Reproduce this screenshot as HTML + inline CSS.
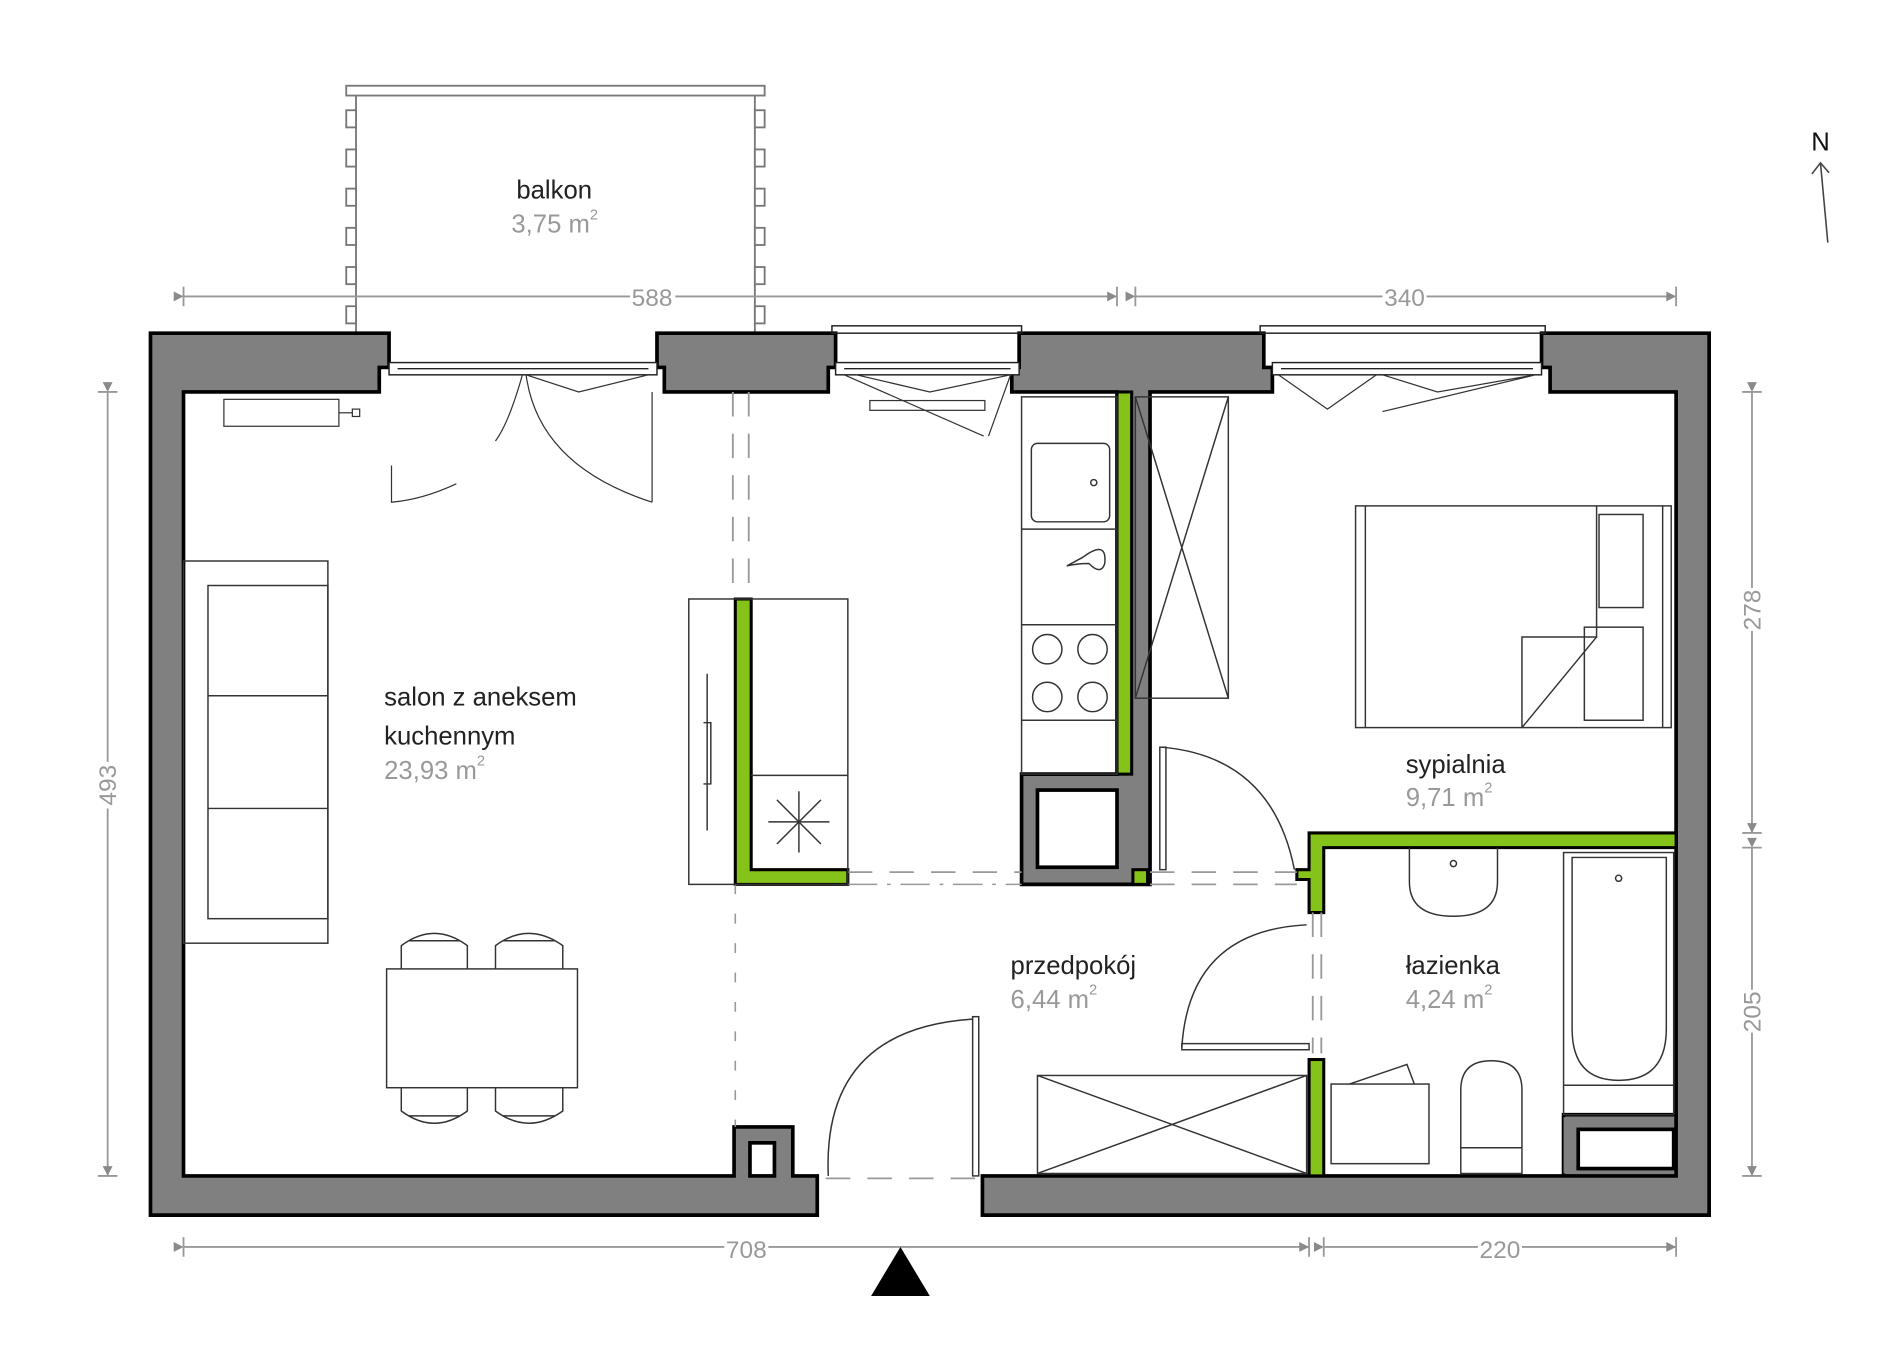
<!DOCTYPE html>
<html><head><meta charset="utf-8"><style>
html,body{margin:0;padding:0;background:#fff;}
svg{display:block;}
text{font-family:"Liberation Sans",sans-serif;}
</style></head><body>
<svg width="1900" height="1367" viewBox="0 0 1553 1116" preserveAspectRatio="none" xmlns="http://www.w3.org/2000/svg">
<defs>
<marker id="ar" viewBox="0 0 10 10" refX="10" refY="5" markerWidth="22" markerHeight="8" markerUnits="userSpaceOnUse" orient="auto"><path d="M0,0 L10,5 L0,10 z" fill="#8a8a8a"/></marker>
</defs>
<rect width="1553" height="1116" fill="#fff"/>

<g stroke="#777" stroke-width="1.5" fill="#fff">
<rect x="283" y="70" width="342" height="8"/>
<line x1="291" y1="78" x2="291" y2="272"/>
<line x1="617" y1="78" x2="617" y2="272"/>
<rect x="283" y="90" width="8" height="14"/><rect x="283" y="122" width="8" height="14"/><rect x="283" y="154" width="8" height="14"/><rect x="283" y="186" width="8" height="14"/><rect x="283" y="218" width="8" height="14"/><rect x="283" y="250" width="8" height="14"/>
<rect x="617" y="90" width="8" height="14"/><rect x="617" y="122" width="8" height="14"/><rect x="617" y="154" width="8" height="14"/><rect x="617" y="186" width="8" height="14"/><rect x="617" y="218" width="8" height="14"/><rect x="617" y="250" width="8" height="14"/>
</g>
<text x="453" y="162" font-size="21" text-anchor="middle" fill="#222">balkon</text>
<text x="418" y="190" font-size="21" fill="#999">3,75 m<tspan font-size="12" dy="-11">2</tspan></text>

<g stroke="#999" stroke-width="1.5" fill="none">
<line x1="150" y1="242" x2="515" y2="242" marker-start="url(#ar)"/><line x1="552" y1="242" x2="913" y2="242" marker-end="url(#ar)"/>
<line x1="928" y1="242" x2="1130" y2="242" marker-start="url(#ar)"/><line x1="1166" y1="242" x2="1370" y2="242" marker-end="url(#ar)"/>
<line x1="88" y1="320" x2="88" y2="622" marker-start="url(#ar)"/><line x1="88" y1="660" x2="88" y2="960" marker-end="url(#ar)"/>
<line x1="1432" y1="320" x2="1432" y2="480" marker-start="url(#ar)"/><line x1="1432" y1="515" x2="1432" y2="680" marker-end="url(#ar)"/>
<line x1="1432" y1="692" x2="1432" y2="808" marker-start="url(#ar)"/><line x1="1432" y1="843" x2="1432" y2="960" marker-end="url(#ar)"/>
<line x1="150" y1="1018" x2="592" y2="1018" marker-start="url(#ar)"/><line x1="628" y1="1018" x2="1070" y2="1018" marker-end="url(#ar)"/>
<line x1="1082" y1="1018" x2="1208" y2="1018" marker-start="url(#ar)"/><line x1="1244" y1="1018" x2="1370" y2="1018" marker-end="url(#ar)"/>
<line x1="913" y1="234" x2="913" y2="250"/><line x1="928" y1="234" x2="928" y2="250"/><line x1="1370" y1="234" x2="1370" y2="250"/><line x1="150" y1="234" x2="150" y2="250"/>
<line x1="80" y1="320" x2="96" y2="320"/><line x1="80" y1="960" x2="96" y2="960"/>
<line x1="1424" y1="320" x2="1440" y2="320"/><line x1="1424" y1="680" x2="1440" y2="680"/><line x1="1424" y1="692" x2="1440" y2="692"/><line x1="1424" y1="960" x2="1440" y2="960"/>
<line x1="150" y1="1010" x2="150" y2="1026"/><line x1="1070" y1="1010" x2="1070" y2="1026"/><line x1="1082" y1="1010" x2="1082" y2="1026"/><line x1="1370" y1="1010" x2="1370" y2="1026"/>
</g>
<g fill="#999" font-size="20" text-anchor="middle">
<text x="533" y="250">588</text><text x="1148" y="250">340</text>
<text x="610" y="1027">708</text><text x="1226" y="1027">220</text>
<text transform="translate(95,641) rotate(-90)">493</text>
<text transform="translate(1439,498) rotate(-90)">278</text>
<text transform="translate(1439,826) rotate(-90)">205</text>
</g>

<text x="1488" y="123" font-size="21" text-anchor="middle" fill="#111">N</text>
<line x1="1494" y1="198" x2="1488" y2="133" stroke="#444" stroke-width="1.3"/>
<path d="M1481,142 L1488,133 L1495,141" fill="none" stroke="#444" stroke-width="1.3"/>

<path d="M736,1018 L712,1058 L760,1058 z" fill="#000"/>

<g fill="#808080" stroke="#000" stroke-width="3">
<path d="M123,272 L318,272 L318,300 L310,300 L310,320 L150,320 L150,960 L600,960 L600,920 L648,920 L648,960 L668,960 L668,992 L123,992 z"/>
<path d="M537,272 L683,272 L683,300 L677,300 L677,320 L543,320 L543,300 L537,300 z"/>
<path d="M833,272 L1033,272 L1033,300 L1040,300 L1040,320 L940,320 L940,722 L835,722 L835,632 L913,632 L913,320 L827,320 L827,300 L833,300 z"/>
<path d="M1260,272 L1397,272 L1397,992 L803,992 L803,960 L1370,960 L1370,910 L1278,910 L1278,960 L1370,960 L1370,320 L1267,320 L1267,300 L1260,300 z"/>
</g>
<rect x="848" y="645" width="65" height="63" fill="#fff" stroke="#000" stroke-width="3"/>
<rect x="613" y="933" width="20" height="27" fill="#fff" stroke="#000" stroke-width="3"/>
<rect x="1290" y="922" width="78" height="32" fill="#fff" stroke="#000" stroke-width="3"/>
<rect x="1278" y="912" width="8" height="46" fill="#808080"/>

<g fill="#86c31a" stroke="#000" stroke-width="2.5">
<rect x="913" y="320" width="12" height="312"/>
<path d="M601,489 L614,489 L614,710 L693,710 L693,722 L601,722 z"/>
<path d="M1070,680 L1370,680 L1370,692 L1082,692 L1082,745 L1070,745 L1070,718 L1060,718 L1060,710 L1070,710 z"/>
<rect x="1070" y="865" width="12" height="95"/>
<rect x="926" y="710" width="12" height="12"/>
</g>

<g stroke="#222" stroke-width="1.2" fill="#fff">
<rect x="318" y="296" width="219" height="10"/><rect x="683" y="296" width="150" height="10"/><rect x="1040" y="296" width="220" height="10"/>
<line x1="325" y1="301" x2="530" y2="301"/><line x1="690" y1="301" x2="826" y2="301"/><line x1="1047" y1="301" x2="1253" y2="301"/>
<rect x="680" y="266" width="155" height="6" fill="none"/><rect x="1030" y="266" width="233" height="6" fill="none"/>
</g>
<g stroke="#333" stroke-width="1" fill="none">
<path d="M430,306 L473,320 L530,306"/><path d="M690,306 L804,356"/><path d="M700,306 L760,320 L826,306"/><path d="M826,306 L808,356"/>
<path d="M1045,306 L1085,334 L1125,306"/><path d="M1130,306 L1175,320 L1255,306 L1130,336"/>
<path d="M427,306 Q416,345 405,360"/><path d="M430,306 Q440,380 533,410"/>
<path d="M320,380 L320,410 Q345,408 373,395"/><line x1="533" y1="320" x2="533" y2="410"/>
<rect x="183" y="326" width="94" height="22"/><rect x="288" y="334" width="6" height="6"/><line x1="277" y1="337" x2="288" y2="337"/>
<rect x="711" y="327" width="94" height="8"/>
</g>
<g stroke="#999" stroke-width="1.5" fill="none" stroke-dasharray="20,14">
<line x1="599" y1="320" x2="599" y2="489"/><line x1="612" y1="320" x2="612" y2="489"/>
<line x1="693" y1="712" x2="835" y2="712"/><line x1="940" y1="712" x2="1060" y2="712"/><line x1="940" y1="722" x2="1060" y2="722"/>
<line x1="1073" y1="745" x2="1073" y2="860"/><line x1="1080" y1="745" x2="1080" y2="860"/>
<line x1="675" y1="962" x2="800" y2="962"/>
</g>
<line x1="601" y1="722" x2="601" y2="920" stroke="#999" stroke-width="1.3" stroke-dasharray="8,16"/>
<line x1="693" y1="722" x2="835" y2="722" stroke="#999" stroke-width="1.3" stroke-dasharray="24,8,3,8"/>

<g stroke="#333" stroke-width="1.2" fill="none">
<rect x="150" y="458" width="118" height="312"/><rect x="170" y="478" width="98" height="272"/>
<line x1="170" y1="568" x2="268" y2="568"/><line x1="170" y1="660" x2="268" y2="660"/>
<rect x="316" y="791" width="156" height="97"/>
<path d="M328,791 L328,772 Q355,752 382,772 L382,791"/><path d="M405,791 L405,772 Q432,752 460,772 L460,791"/>
<path d="M328,888 L328,907 Q355,927 382,907 L382,888"/><path d="M405,888 L405,907 Q432,927 460,907 L460,888"/>
<line x1="334" y1="768" x2="376" y2="768"/><line x1="411" y1="768" x2="454" y2="768"/><line x1="334" y1="911" x2="376" y2="911"/><line x1="411" y1="911" x2="454" y2="911"/>
<rect x="563" y="489" width="130" height="233"/><line x1="614" y1="633" x2="693" y2="633"/>
<path d="M578,550 L578,678 M575,590 L581,590 L581,640 L575,640"/>
<rect x="835" y="324" width="78" height="308"/>
<line x1="835" y1="432" x2="913" y2="432"/><line x1="835" y1="510" x2="913" y2="510"/><line x1="835" y1="588" x2="913" y2="588"/>
<rect x="843" y="362" width="64" height="64" rx="5"/><circle cx="894" cy="394" r="2.5"/>
<path d="M885,455 Q905,440 903,460 Q900,470 890,460 Q880,460 872,462 Z"/>
<circle cx="856" cy="530" r="12"/><circle cx="893" cy="530" r="12"/><circle cx="856" cy="569" r="12"/><circle cx="893" cy="569" r="12"/>
<rect x="928" y="324" width="76" height="246"/><path d="M928,324 L1004,570 M1004,324 L928,570"/>
<rect x="1108" y="413" width="258" height="181"/><line x1="1116" y1="413" x2="1116" y2="594"/><line x1="1359" y1="413" x2="1359" y2="594"/>
<rect x="1307" y="420" width="36" height="76"/><rect x="1295" y="512" width="48" height="76"/>
<path d="M1244,594 L1244,520 L1305,520 L1305,413 M1244,594 L1305,520"/>
<path d="M677,960 Q672,840 795,832"/><rect x="795" y="830" width="5" height="130"/>
<path d="M966,855 Q972,760 1068,755"/><rect x="966" y="852" width="104" height="5"/>
<path d="M950,610 Q1040,618 1058,710"/><rect x="948" y="610" width="5" height="100"/>
<rect x="848" y="878" width="220" height="80"/><path d="M848,878 L1068,958 M1068,878 L848,958"/>
<path d="M1152,692 L1152,720 Q1152,748 1188,748 Q1224,748 1224,720 L1224,692"/><circle cx="1188" cy="705" r="2.5"/>
<rect x="1278" y="696" width="90" height="214"/><path d="M1285,700 L1285,840 Q1285,882 1323,882 Q1362,882 1362,840 L1362,700 Z"/><circle cx="1323" cy="717" r="2.5"/>
<line x1="1278" y1="886" x2="1368" y2="886"/>
<rect x="1088" y="885" width="80" height="65"/><path d="M1103,885 L1150,869 L1156,885"/>
<path d="M1194,958 L1194,890 Q1194,866 1219,866 Q1244,866 1244,890 L1244,958 Z"/><line x1="1194" y1="937" x2="1244" y2="937"/>
</g>
<g stroke="#333" stroke-width="1.2">
<line x1="653" y1="646" x2="653" y2="696"/><line x1="628" y1="671" x2="678" y2="671"/>
<line x1="635" y1="653" x2="671" y2="689"/><line x1="671" y1="653" x2="635" y2="689"/>
</g>

<g font-size="21">
<text x="314" y="576" fill="#222">salon z aneksem</text>
<text x="314" y="608" fill="#222">kuchennym</text>
<text x="314" y="636" fill="#999">23,93 m<tspan font-size="12" dy="-11">2</tspan></text>
<text x="1149" y="631" fill="#222">sypialnia</text>
<text x="1149" y="658" fill="#999">9,71 m<tspan font-size="12" dy="-11">2</tspan></text>
<text x="826" y="795" fill="#222">przedpokój</text>
<text x="826" y="823" fill="#999">6,44 m<tspan font-size="12" dy="-11">2</tspan></text>
<text x="1149" y="795" fill="#222">łazienka</text>
<text x="1149" y="823" fill="#999">4,24 m<tspan font-size="12" dy="-11">2</tspan></text>
</g>
</svg>
</body></html>
